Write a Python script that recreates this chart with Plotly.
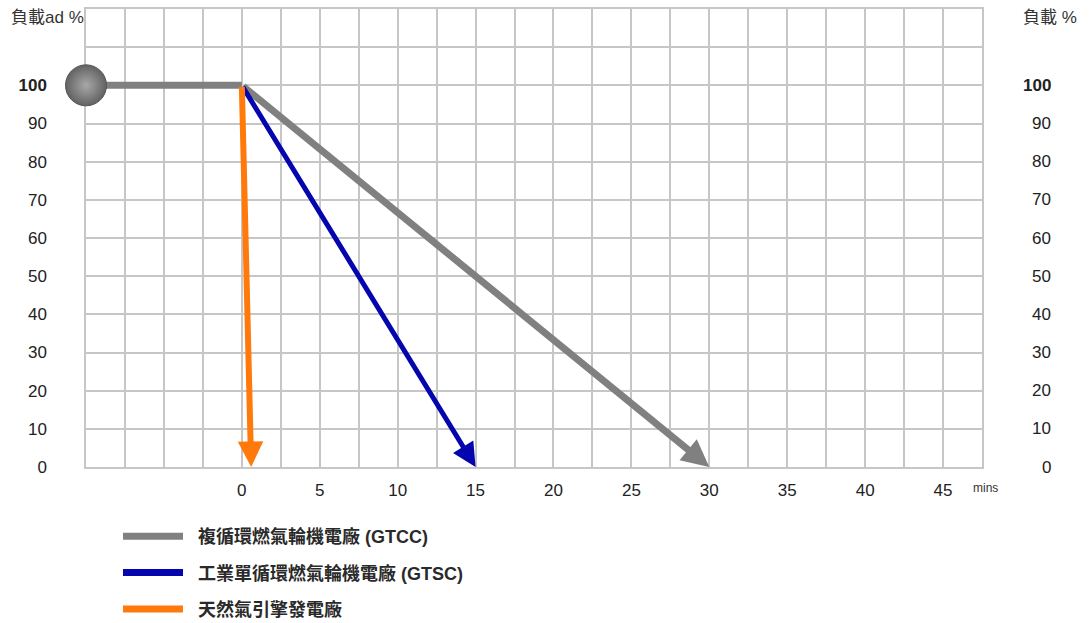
import plotly.graph_objects as go

# Load (%) against time (minutes) for three plant types
hold_x = [-10, 0]
hold_y = [100, 100]

gtcc_x = [0, 30]
gtcc_y = [100, 0]

gtsc_x = [0, 15]
gtsc_y = [100, 0]

engine_x = [0, 0.6]
engine_y = [100, 0]

x_tick_vals = [0, 5, 10, 15, 20, 25, 30, 35, 40, 45]
y_tick_vals = [0, 10, 20, 30, 40, 50, 60, 70, 80, 90, 100]
y_tick_text = ["0", "10", "20", "30", "40", "50", "60", "70", "80", "90", "<b>100</b>"]

names = ["複循環燃氣輪機電廠 (GTCC)", "工業單循環燃氣輪機電廠 (GTSC)", "天然氣引擎發電廠"]
GRAY = "#808080"
BLUE = "#0505b0"
ORANGE = "#ff7a0a"

FONT = "Liberation Sans, Arial, sans-serif"
CJK = "Liberation Sans, Noto Sans CJK TC, sans-serif"
GRID = "#c6c6c6"

W, H = 1089, 623
ML, MR, MT, MB = 86, 30, 9, 156
PW = W - ML - MR
PH = H - MT - MB
X_END_PX = 982

fig = go.Figure()

# full-load plateau before the ramp
fig.add_trace(go.Scatter(
    x=hold_x, y=hold_y, mode="lines", name="\u00a0\u00a0" + names[0],
    legendgroup="a", line=dict(color=GRAY, width=7), cliponaxis=False,
    hoverinfo="skip"))

# legend entries for the ramps, which are drawn as arrows below
fig.add_trace(go.Scatter(
    x=[None], y=[None], mode="lines", name="\u00a0\u00a0" + names[1],
    legendgroup="b", line=dict(color=BLUE, width=7)))
fig.add_trace(go.Scatter(
    x=[None], y=[None], mode="lines", name="\u00a0\u00a0" + names[2],
    legendgroup="c", line=dict(color=ORANGE, width=7)))

# starting point sphere (lighter centre, darker rim)
fig.add_trace(go.Scatter(
    x=hold_x[:1], y=hold_y[:1], mode="markers", showlegend=False,
    marker=dict(size=41, color="#626262",
                gradient=dict(type="radial", color="#a8a8a8"),
                line=dict(color="#555555", width=1)),
    cliponaxis=False, hoverinfo="skip"))

ramps = [
    (gtcc_x, gtcc_y, GRAY, 7, 0.78),
    (gtsc_x, gtsc_y, BLUE, 5, 0.95),
    (engine_x, engine_y, ORANGE, 6, 0.85),
]
for xs, ys, col, w, s in ramps:
    fig.add_annotation(
        x=xs[1], y=ys[1], ax=xs[0], ay=ys[0],
        xref="x", yref="y", axref="x", ayref="y",
        text="", showarrow=True, arrowhead=2, arrowsize=s,
        arrowwidth=w, arrowcolor=col, standoff=0, startstandoff=0)

def px_x(p):
    return (p - ML) / PW

def px_y(p):
    return 1 - (p - MT) / PH

tick_font = dict(family=FONT, size=17, color="#222222")

# right-hand load scale, right-aligned next to the grid
for v, t in zip(y_tick_vals, y_tick_text):
    fig.add_annotation(x=px_x(1053), y=v, xref="paper", yref="y",
                       xanchor="right", yanchor="middle", showarrow=False,
                       text=t, font=tick_font)

fig.add_annotation(x=px_x(9), y=px_y(18), xref="paper", yref="paper",
                   xanchor="left", yanchor="middle", showarrow=False,
                   text="負載ad %", font=dict(family=CJK, size=17, color="#333333"))
fig.add_annotation(x=px_x(1021), y=px_y(18), xref="paper", yref="paper",
                   xanchor="left", yanchor="middle", showarrow=False,
                   text="負載 %", font=dict(family=CJK, size=17, color="#333333"))
fig.add_annotation(x=px_x(971), y=px_y(488), xref="paper", yref="paper",
                   xanchor="left", yanchor="middle", showarrow=False,
                   text="mins", font=dict(family=FONT, size=12, color="#333333"))

fig.update_layout(
    width=W, height=H,
    margin=dict(l=ML, r=MR, t=MT, b=MB, autoexpand=False),
    paper_bgcolor="white", plot_bgcolor="white",
    showlegend=True,
    legend=dict(x=px_x(118), y=px_y(518), xanchor="left", yanchor="top",
                orientation="v", tracegroupgap=10, itemwidth=60,
                font=dict(family=CJK, size=18, color="#2a2a2a", weight="bold"),
                bgcolor="rgba(0,0,0,0)"),
    xaxis=dict(
        domain=[0, (X_END_PX - ML) / PW], range=[-10, 47.5],
        tickmode="array", tickvals=x_tick_vals, ticks="",
        tickfont=tick_font, ticklabelstandoff=7, layer="below traces",
        showgrid=True, gridcolor=GRID, gridwidth=1.5, zeroline=False,
        showline=True, mirror=True, linecolor=GRID, linewidth=1.5,
        minor=dict(tickmode="linear", tick0=-10, dtick=2.5, showgrid=True,
                   gridcolor=GRID, gridwidth=1.5, ticks=""),
    ),
    yaxis=dict(
        range=[0, 120], tickmode="array", tickvals=y_tick_vals,
        ticktext=y_tick_text, ticks="", tickfont=tick_font,
        ticklabelstandoff=34, layer="below traces",
        showgrid=True, gridcolor=GRID, gridwidth=1.5, zeroline=False,
        showline=True, mirror=True, linecolor=GRID, linewidth=1.5,
        minor=dict(tickmode="linear", tick0=0, dtick=10, showgrid=True,
                   gridcolor=GRID, gridwidth=1.5, ticks=""),
    ),
)

fig.write_html("out.html")
